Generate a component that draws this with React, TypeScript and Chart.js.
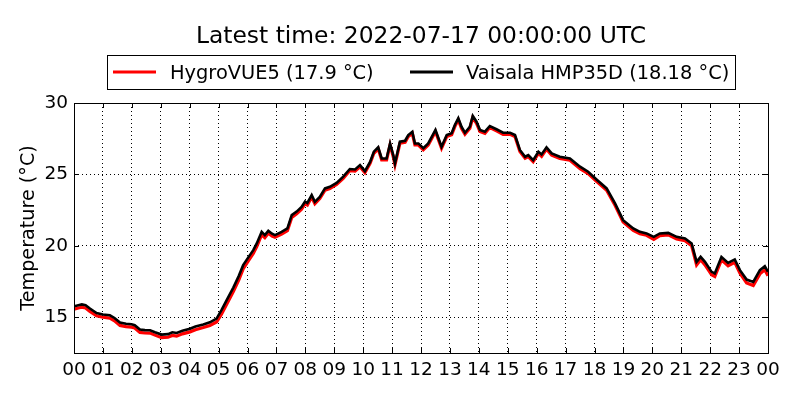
import React, { useEffect, useRef } from 'react';
import Chart from 'chart.js/auto';

// time of day in hours (UTC)
const hours = [
  0.0, 0.15, 0.27, 0.4, 0.55, 0.78, 1.0, 1.24, 1.4, 1.59, 1.8, 1.99, 2.1, 2.28, 2.45, 2.63, 2.8,
  3.03, 3.25, 3.4, 3.55, 3.75, 4.01, 4.2, 4.47, 4.7, 4.93, 5.1, 5.28, 5.51, 5.7, 5.85, 6.04, 6.2,
  6.32, 6.49, 6.6, 6.72, 6.85, 6.95, 7.18, 7.38, 7.53, 7.7, 7.87, 7.99, 8.07, 8.22, 8.33, 8.5,
  8.68, 8.85, 9.08, 9.31, 9.54, 9.72, 9.89, 10.06, 10.24, 10.37, 10.52, 10.64, 10.81, 10.93,
  11.04, 11.1, 11.27, 11.45, 11.56, 11.7, 11.79, 11.91, 12.08, 12.25, 12.5, 12.71, 12.89, 13.06,
  13.17, 13.29, 13.4, 13.52, 13.69, 13.79, 13.92, 14.04, 14.21, 14.38, 14.61, 14.84, 15.08,
  15.25, 15.42, 15.6, 15.71, 15.88, 16.06, 16.17, 16.34, 16.52, 16.8, 17.15, 17.5, 17.78, 18.07,
  18.42, 18.71, 18.99, 19.34, 19.57, 19.8, 20.05, 20.26, 20.55, 20.84, 21.13, 21.36, 21.53,
  21.67, 21.82, 22.05, 22.16, 22.39, 22.62, 22.85, 23.03, 23.26, 23.49, 23.72, 23.89, 24.0,
];

const hygroVUE5 = [
  15.57, 15.65, 15.7, 15.65, 15.41, 15.1, 15.0, 14.94, 14.75, 14.43, 14.35, 14.31, 14.25, 13.94,
  13.9, 13.89, 13.75, 13.57, 13.6, 13.73, 13.68, 13.84, 13.98, 14.13, 14.28, 14.43, 14.67, 15.22,
  15.92, 16.8, 17.62, 18.38, 18.98, 19.47, 19.95, 20.78, 20.58, 20.88, 20.68, 20.6, 20.83, 21.07,
  21.98, 22.24, 22.57, 22.95, 22.86, 23.42, 22.95, 23.31, 23.9, 24.01, 24.3, 24.73, 25.27, 25.24,
  25.54, 25.12, 25.77, 26.48, 26.79, 26.01, 26.01, 27.06, 26.25, 25.67, 27.18, 27.25, 27.65,
  27.88, 27.06, 27.06, 26.72, 27.06, 28.0, 26.83, 27.65, 27.77, 28.35, 28.82, 28.23, 27.81,
  28.23, 28.98, 28.58, 28.0, 27.88, 28.28, 28.05, 27.81, 27.81, 27.65, 26.6, 26.13, 26.25, 25.89,
  26.47, 26.27, 26.77, 26.34, 26.11, 25.99, 25.41, 25.06, 24.52, 23.89, 22.84, 21.67, 21.09,
  20.85, 20.74, 20.45, 20.72, 20.77, 20.48, 20.36, 20.0, 18.66, 19.03, 18.67, 17.97, 17.86,
  19.02, 18.6, 18.84, 18.08, 17.4, 17.23, 18.04, 18.32, 17.9,
];

const vaisalaHMP35D = [
  15.77, 15.85, 15.9, 15.85, 15.61, 15.3, 15.2, 15.14, 14.95, 14.63, 14.55, 14.51, 14.45, 14.14,
  14.1, 14.09, 13.95, 13.79, 13.82, 13.95, 13.9, 14.05, 14.2, 14.35, 14.49, 14.65, 14.91, 15.5,
  16.2, 17.08, 17.9, 18.65, 19.23, 19.7, 20.17, 20.98, 20.75, 21.05, 20.85, 20.75, 20.98, 21.22,
  22.15, 22.4, 22.73, 23.1, 23.0, 23.55, 23.08, 23.43, 24.02, 24.13, 24.41, 24.84, 25.38, 25.35,
  25.65, 25.23, 25.88, 26.59, 26.9, 26.12, 26.12, 27.17, 26.36, 25.77, 27.29, 27.36, 27.76,
  27.99, 27.17, 27.17, 26.83, 27.17, 28.11, 26.94, 27.76, 27.88, 28.46, 28.93, 28.34, 27.92,
  28.34, 29.09, 28.69, 28.11, 27.99, 28.39, 28.16, 27.92, 27.92, 27.76, 26.71, 26.24, 26.36, 26.0,
  26.59, 26.4, 26.9, 26.47, 26.24, 26.12, 25.54, 25.19, 24.65, 24.02, 22.97, 21.8, 21.22,
  20.98, 20.87, 20.63, 20.87, 20.91, 20.63, 20.52, 20.17, 18.88, 19.23, 18.88, 18.18, 18.07,
  19.23, 18.81, 19.05, 18.3, 17.64, 17.48, 18.3, 18.58, 18.18,
];

const hourLabels = [
  '00', '01', '02', '03', '04', '05', '06', '07', '08', '09', '10', '11', '12',
  '13', '14', '15', '16', '17', '18', '19', '20', '21', '22', '23', '00',
];
const tempTicks = [15, 20, 25, 30];

const titleText = 'Latest time: 2022-07-17 00:00:00 UTC';
const seriesNames = ['HygroVUE5 (17.9 °C)', 'Vaisala HMP35D (18.18 °C)'];
const seriesColors = ['#ff0000', '#000000'];

const FAMILY = '"DejaVu Sans", sans-serif';

// matplotlib-ish frame, inward ticks, title and boxed legend
const decorPlugin = {
  id: 'decor',
  afterDraw(chart: any) {
    const { ctx, chartArea: a } = chart;
    const xs = chart.scales.x;
    const ys = chart.scales.y;
    ctx.save();
    ctx.strokeStyle = '#000';
    ctx.lineWidth = 1;
    ctx.beginPath();
    xs.ticks.forEach((t: any) => {
      const px = Math.round(xs.getPixelForValue(t.value)) + 0.5;
      ctx.moveTo(px, a.bottom);
      ctx.lineTo(px, a.bottom - 5);
      ctx.moveTo(px, a.top);
      ctx.lineTo(px, a.top + 5);
    });
    ys.ticks.forEach((t: any) => {
      const py = Math.round(ys.getPixelForValue(t.value)) + 0.5;
      ctx.moveTo(a.left, py);
      ctx.lineTo(a.left + 5, py);
      ctx.moveTo(a.right, py);
      ctx.lineTo(a.right - 5, py);
    });
    ctx.stroke();
    ctx.strokeRect(Math.round(a.left) + 0.5, Math.round(a.top) + 0.5,
      Math.round(a.right - a.left), Math.round(a.bottom - a.top));

    // title
    ctx.fillStyle = '#000';
    ctx.font = `23.4px ${FAMILY}`;
    ctx.textAlign = 'center';
    ctx.textBaseline = 'alphabetic';
    ctx.fillText(titleText, (a.left + a.right) / 2, 42.5);

    // legend box
    ctx.fillStyle = '#fff';
    ctx.fillRect(107.5, 55.5, 628, 34);
    ctx.strokeRect(107.5, 55.5, 628, 34);
    const lineX = [113, 410];
    const textX = [170, 466];
    ctx.font = `19.4px ${FAMILY}`;
    ctx.textAlign = 'left';
    seriesNames.forEach((name, i) => {
      ctx.strokeStyle = seriesColors[i];
      ctx.lineWidth = 3;
      ctx.beginPath();
      ctx.moveTo(lineX[i], 72);
      ctx.lineTo(lineX[i] + 43, 72);
      ctx.stroke();
      ctx.fillStyle = '#000';
      ctx.fillText(name, textX[i], 78.5);
    });
    ctx.restore();
  },
};

const TemperatureChart = () => {
  const canvasRef = useRef<HTMLCanvasElement | null>(null);

  useEffect(() => {
    document.body.style.margin = '0';
    if (!canvasRef.current) return;

    const chart = new Chart(canvasRef.current, {
      type: 'line',
      data: {
        datasets: [
          {
            label: seriesNames[0],
            data: hours.map((h, i) => ({ x: h, y: hygroVUE5[i] })),
            borderColor: seriesColors[0],
            borderWidth: 3.2,
            pointRadius: 0,
            tension: 0,
            order: 1,
          },
          {
            label: seriesNames[1],
            data: hours.map((h, i) => ({ x: h, y: vaisalaHMP35D[i] })),
            borderColor: seriesColors[1],
            borderWidth: 2.6,
            pointRadius: 0,
            tension: 0,
            order: 0,
          },
        ],
      },
      options: {
        responsive: false,
        animation: false,
        devicePixelRatio: 1,
        layout: { padding: { top: 103, right: 32, left: 0, bottom: 0 } },
        plugins: {
          legend: { display: false },
          title: { display: false },
          tooltip: { enabled: false },
        },
        scales: {
          x: {
            type: 'linear',
            min: 0,
            max: 24,
            afterBuildTicks: (s: any) => {
              s.ticks = hourLabels.map((_, i) => ({ value: i }));
            },
            afterFit: (s: any) => {
              s.height = 47;
            },
            ticks: {
              callback: (v: any) => hourLabels[v],
              color: '#000',
              font: { family: FAMILY, size: 18.5 },
              padding: 6,
              maxRotation: 0,
              autoSkip: false,
            },
            grid: { color: '#000', lineWidth: 1, drawTicks: false },
            border: { display: false, dash: [1, 3] },
          },
          y: {
            min: 12.5,
            max: 30,
            afterBuildTicks: (s: any) => {
              s.ticks = tempTicks.map((v) => ({ value: v }));
            },
            afterFit: (s: any) => {
              s.width = 74;
            },
            ticks: {
              color: '#000',
              font: { family: FAMILY, size: 18.5 },
              padding: 6,
            },
            title: {
              display: true,
              text: 'Temperature (°C)',
              color: '#000',
              font: { family: FAMILY, size: 19.2 },
              padding: { top: 17, bottom: 0 },
            },
            grid: { color: '#000', lineWidth: 1, drawTicks: false },
            border: { display: false, dash: [1, 3] },
          },
        },
      },
      plugins: [decorPlugin],
    });

    return () => {
      chart.destroy();
    };
  }, []);

  return (
    <div style={{ width: 800, height: 400, background: '#fff' }}>
      <canvas ref={canvasRef} width={800} height={400} style={{ display: 'block' }}></canvas>
    </div>
  );
};

export default function App() {
  return <TemperatureChart />;
}
